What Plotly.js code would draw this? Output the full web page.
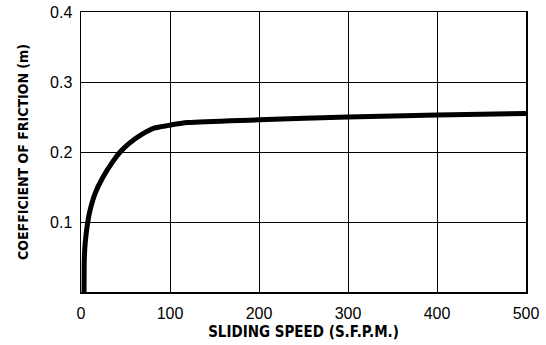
<!DOCTYPE html>
<html><head><meta charset="utf-8">
<script src="https://cdn.plot.ly/plotly-3.0.1.min.js"></script>
<style>html,body{margin:0;padding:0;background:#fff;}#chart{width:546px;height:345px;}</style>
</head><body><div id="chart"></div>
<script>
const speed = [3.4, 3.5, 3.7, 4.7, 7.6, 10.2, 15.9, 24.6, 36.7, 44, 53.8, 67, 82, 98.5, 120, 200, 300, 400, 500];
const friction = [0, 0.02, 0.046, 0.07, 0.1, 0.117, 0.141, 0.164, 0.188, 0.2, 0.212, 0.224, 0.234, 0.238, 0.242, 0.246, 0.250, 0.253, 0.255];
const xTicks = [0, 100, 200, 300, 400, 500];
const yTicks = [0.1, 0.2, 0.3, 0.4];
const yTickText = ['0.1', '0.2', '0.3', '0.4'];

Plotly.newPlot('chart', [{
  x: speed, y: friction, mode: 'lines', type: 'scatter',
  line: {color: '#000', width: 5, shape: 'spline', smoothing: 0.8},
  hoverinfo: 'skip'
}], {
  width: 546, height: 345,
  margin: {l: 81, r: 20, t: 12, b: 53},
  paper_bgcolor: '#fff', plot_bgcolor: '#fff',
  showlegend: false,
  font: {family: 'Liberation Sans, Arial, sans-serif', color: '#000'},
  xaxis: {
    range: [0, 500], tickvals: xTicks, ticktext: xTicks.map(String),
    showgrid: true, gridcolor: '#000', gridwidth: 1,
    showline: true, linecolor: '#000', linewidth: 1.5, mirror: true,
    zeroline: false, ticks: '', ticklen: 0, ticklabelstandoff: 6,
    tickfont: {size: 16, family: 'Liberation Sans, Arial, sans-serif'},
    title: {text: 'SLIDING SPEED (S.F.P.M.)', font: {size: 15, family: 'DejaVu Sans Condensed, sans-serif', weight: 'bold'}, standoff: 6}
  },
  yaxis: {
    range: [0, 0.4], tickvals: yTicks, ticktext: yTickText,
    showgrid: true, gridcolor: '#000', gridwidth: 1,
    showline: true, linecolor: '#000', linewidth: 1.5, mirror: true,
    zeroline: false, ticks: '', ticklen: 0, ticklabelstandoff: 4,
    tickfont: {size: 16, family: 'Liberation Sans, Arial, sans-serif'},
    title: {text: 'COEFFICIENT OF FRICTION (m)', font: {size: 14, family: 'DejaVu Sans Condensed, sans-serif', weight: 'bold'}, standoff: 18}
  }
}, {staticPlot: true});
</script></body></html>
